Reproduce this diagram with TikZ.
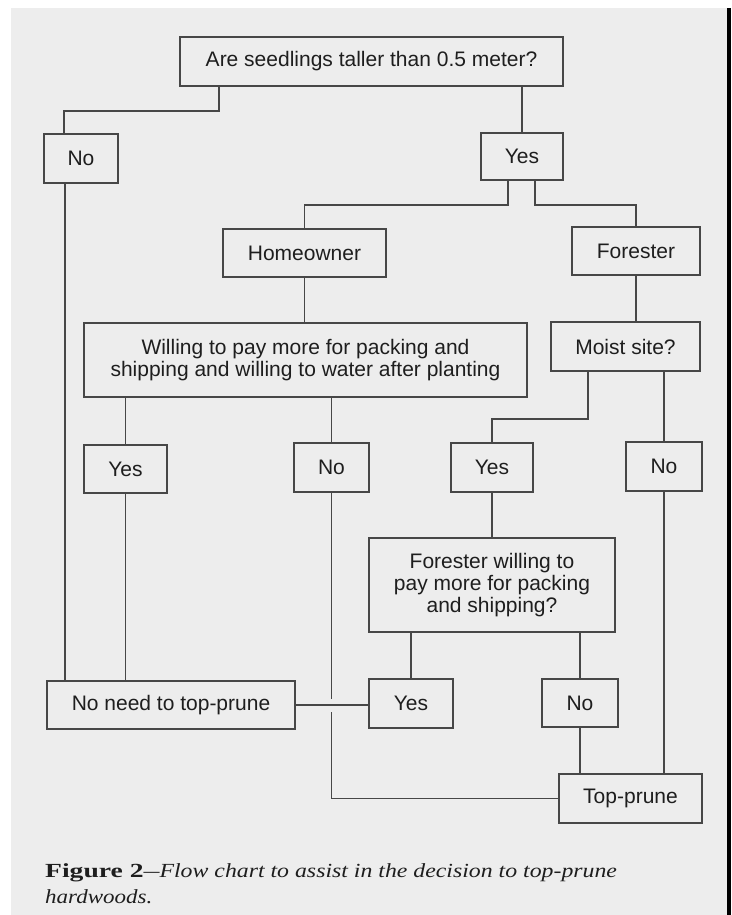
\documentclass[tikz,border=0pt]{standalone}
\usepackage{fontspec}
\setmainfont{Liberation Serif}
\newfontfamily\boxfont{Liberation Sans}
\usetikzlibrary{calc}
\definecolor{pagebg}{HTML}{EDEDED}
\definecolor{linecol}{HTML}{474747}
\definecolor{txtcol}{HTML}{1E1E1E}
\begin{document}
\begin{tikzpicture}[x=1pt,y=-1pt,
  fbox/.style={draw=linecol, line width=1.8pt, inner sep=0pt, align=center,
    text=txtcol, font=\boxfont\fontsize{21}{22}\selectfont},
  conn/.style={draw=linecol, line width=1.7pt},
  captxt/.style={anchor=base west, inner sep=0pt, text=txtcol, font=\fontsize{20}{26}\selectfont}]
\useasboundingbox (0,0) rectangle (731,915);
\fill[white] (0,0) rectangle (731,915);
\fill[pagebg] (11,8) rectangle (727,915);
\fill[black] (727,8) rectangle (731,915);
% boxes
\node[fbox, minimum width=383pt, minimum height=49pt] (q1) at (371.5,61.5) {Are seedlings taller than 0.5 meter?};
\node[fbox, minimum width=74pt, minimum height=49pt] (no1) at (81,158.5) {No};
\node[fbox, minimum width=82pt, minimum height=47pt] (yes1) at (522,156.5) {Yes};
\node[fbox, minimum width=163pt, minimum height=48pt] (home) at (304.5,253) {Homeowner};
\node[fbox, minimum width=128pt, minimum height=48pt] (forest) at (636,251) {Forester};
\node[fbox, minimum width=443pt, minimum height=74pt] (will) at (305.5,360) {Willing to pay more for packing and\\shipping and willing to water after planting};
\node[fbox, minimum width=149pt, minimum height=49pt] (moist) at (625.5,346.5) {Moist site?};
\node[fbox, minimum width=83pt, minimum height=48pt] (yes2) at (125.5,469) {Yes};
\node[fbox, minimum width=75pt, minimum height=49pt] (no2) at (331.5,467.5) {No};
\node[fbox, minimum width=82pt, minimum height=49pt] (yes3) at (492,467.5) {Yes};
\node[fbox, minimum width=76pt, minimum height=49pt] (no3) at (664,466.5) {No};
\node[fbox, minimum width=246pt, minimum height=94pt] (fw) at (492,585) {Forester willing to\\pay more for packing\\and shipping?};
\node[fbox, minimum width=248pt, minimum height=48pt] (noneed) at (171,705) {No need to top-prune};
\node[fbox, minimum width=84pt, minimum height=49pt] (yes4) at (411,703.5) {Yes};
\node[fbox, minimum width=76pt, minimum height=48pt] (no4) at (580,703) {No};
\node[fbox, minimum width=143pt, minimum height=49pt] (top) at (630.5,798.5) {Top-prune};
% connectors
\draw[conn] ([xshift=40pt]q1.south west) -- ++(0,24) -| ([xshift=-17pt]no1.north);
\draw[conn] (yes1.north) -- (yes1.north |- q1.south);
\draw[conn] ([xshift=-14pt]yes1.south) -- ++(0,24) -| (home.north);
\draw[conn] ([xshift=13pt]yes1.south) -- ++(0,24) -| (forest.north);
\draw[conn] (home.south) -- (home.south |- will.north);
\draw[conn] (forest.south) -- (forest.south |- moist.north);
\draw[conn] (yes2.north) -- (yes2.north |- will.south);
\draw[conn] (no2.north) -- (no2.north |- will.south);
\draw[conn] ([xshift=-37.5pt]moist.south) -- ++(0,47) -| (yes3.north);
\draw[conn] (no3.north) -- (no3.north |- moist.south);
\draw[conn] (yes3.south) -- (fw.north);
\draw[conn] (yes4.north) -- (yes4.north |- fw.south);
\draw[conn] (no4.north) -- (no4.north |- fw.south);
\path ([xshift=-16pt]no1.south) coordinate (a1);
\draw[conn] (a1) -- (a1 |- noneed.north);
\draw[conn] (yes2.south) -- (yes2.south |- noneed.north);
\draw[conn] (no2.south) -- (no2.south |- top.west) -- (top.west);
\path (no2.south |- noneed.east) coordinate (cross);
\draw[draw=pagebg, line width=4pt] ($(cross)+(0,-6.5)$) -- ($(cross)+(0,6.5)$);
\draw[conn] (noneed.east) -- (noneed.east -| yes4.west);
\draw[conn] (no4.south) -- (no4.south |- top.north);
\draw[conn] (no3.south) -- (no3.south |- top.north);
% caption
\node[captxt] (cap1) at (45,877)
  {\scalebox{1.38}[1]{\textbf{Figure 2}}\scalebox{0.8}[1]{---}\scalebox{1.19}[1]{\textit{Flow chart to assist in the decision to top-prune}}};
\node[captxt] (cap2) at (45,903)
  {\scalebox{1.15}[1]{\textit{hardwoods.}}};
\end{tikzpicture}
\end{document}
